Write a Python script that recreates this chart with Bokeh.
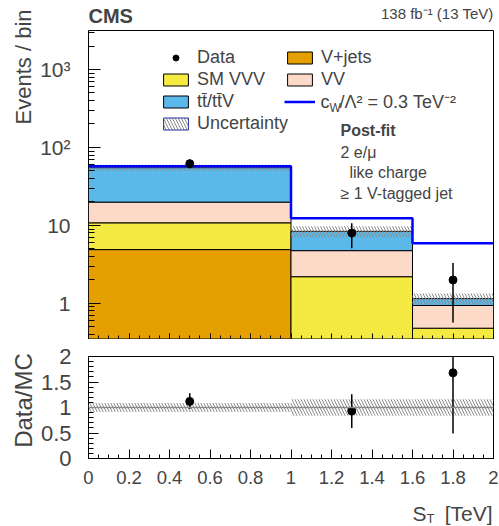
import numpy as np
from bokeh.plotting import figure
from bokeh.layouts import column, row
from bokeh.models import (Range1d, FixedTicker, Legend, LegendItem, Label, Span,
                          NumeralTickFormatter, CustomJSTickFormatter)
from bokeh.embed import file_html
from bokeh.resources import INLINE

FONT = "Liberation Sans"

# ---- data ----
bin_edges = [0.0, 1.0, 1.6, 2.0]
data_x = [0.5, 1.3, 1.8]
vjets = [4.9, 0.25, 0.1]
sm_vvv = [5.9, 1.95, 0.38]
vv = [9.1, 2.55, 0.46]
ttv = [35.1, 3.65, 0.21]
cw_signal = [57.5, 12.4, 5.93]
data_counts = [62, 8, 2]
data_lo = [54.1, 5.1, 0.57]
data_hi = [70.0, 10.7, 3.3]
unc_rel = [0.09, 0.16, 0.16]
ratio = [1.12, 0.93, 1.68]
ratio_lo = [0.97, 0.60, 0.49]
ratio_hi = [1.28, 1.26, 2.9]

proc_names = ["V+jets", "SM VVV", "VV", "tt\u0304/tt\u0304V"]
proc_colors = ["#e69f00", "#f5ea42", "#fdd9c7", "#5bb8ea"]

y_major = [1, 10, 100, 1000]
y_major_labels = {1: "1", 10: "10", 100: "10\u00b2", 1000: "10\u00b3"}
y_minor = [m * 10.0 ** e for e in range(-1, 4) for m in range(1, 10) if not (e == -1 and m < 4)]
x_major = [0, 0.2, 0.4, 0.6, 0.8, 1.0, 1.2, 1.4, 1.6, 1.8, 2.0]
x_minor = [i * 0.05 for i in range(41)]
r_major = [0, 0.5, 1, 1.5, 2]
r_minor = [i * 0.1 for i in range(21)]

left = np.array(bin_edges[:-1])
right = np.array(bin_edges[1:])
BASE = 1e-3

LEFT_W = 36
MAIN_W = 463


def lab(p, x, y, text, size, **kw):
    p.add_layout(Label(x=x, y=y, x_units="screen", y_units="screen", text=text,
                       text_font=FONT, text_font_size=size, **kw))


def text_fig(w, h):
    f = figure(width=w, height=h, x_range=Range1d(0, 1), y_range=Range1d(0, 1),
               x_axis_location=None, y_axis_location=None,
               output_backend="svg", toolbar_location=None,
               min_border_left=0, min_border_right=0, min_border_top=0, min_border_bottom=0)
    f.outline_line_color = None
    f.xgrid.visible = False
    f.ygrid.visible = False
    f.background_fill_color = "white"
    f.border_fill_color = "white"
    return f


# ---- top panel ----
p1 = figure(width=MAIN_W, height=314, y_axis_type="log",
            x_range=Range1d(0, 2), y_range=Range1d(10 ** -0.45, 10 ** 3.5),
            output_backend="svg", toolbar_location=None,
            min_border_left=52, min_border_right=6, min_border_top=2, min_border_bottom=4)

stack = [np.array(vjets), np.array(sm_vvv), np.array(vv), np.array(ttv)]
cum = np.full(3, BASE)
rends = {}
for name, vals, col in zip(proc_names, stack, proc_colors):
    top = cum + vals
    rends[name] = p1.quad(left=left, right=right, bottom=cum, top=top,
                          fill_color=col, line_color="black", line_width=1)
    cum = top
total = cum

band_kw = dict(left=left, right=right, bottom=total * (1 - np.array(unc_rel)),
               top=total * (1 + np.array(unc_rel)))
p1.quad(**band_kw, fill_alpha=0, line_color=None,
        hatch_pattern="\\", hatch_color="#8a8a8a", hatch_scale=6, hatch_weight=1)
unc_leg = p1.quad(**band_kw, fill_color="white", line_color="#2a2aa8", line_width=1,
                  hatch_pattern="\\", hatch_color="#8a8a8a", hatch_scale=6, hatch_weight=1)
unc_leg.visible = False

cw_line = p1.step(x=bin_edges, y=list(cw_signal) + [cw_signal[-1]], mode="after",
                  line_color="#0000ff", line_width=2.5)

p1.segment(x0=data_x, y0=data_lo, x1=data_x, y1=data_hi, line_color="black", line_width=1.5)
data_r = p1.scatter(data_x, data_counts, size=8, color="black")

p1.xgrid.visible = False
p1.ygrid.visible = False
p1.outline_line_color = "black"
p1.outline_line_width = 1

p1.yaxis.ticker = FixedTicker(ticks=y_major, minor_ticks=y_minor)
p1.yaxis.major_label_overrides = y_major_labels
p1.yaxis.major_label_text_font = FONT
p1.yaxis.major_label_text_font_size = "21px"
p1.yaxis.major_label_standoff = 18
p1.yaxis.major_tick_in = 12
p1.yaxis.major_tick_out = 0
p1.yaxis.minor_tick_in = 6
p1.yaxis.minor_tick_out = 0
p1.yaxis.axis_line_color = None

p1.xaxis.ticker = FixedTicker(ticks=x_major, minor_ticks=x_minor)
p1.xaxis.formatter = CustomJSTickFormatter(code="return ''")
p1.xaxis.major_label_text_font_size = "1px"
p1.xaxis.major_label_standoff = 0
p1.xaxis.major_tick_in = 5
p1.xaxis.major_tick_out = 0
p1.xaxis.minor_tick_in = 3
p1.xaxis.minor_tick_out = 0
p1.xaxis.axis_line_color = None

leg_common = dict(glyph_width=31, glyph_height=15, label_height=22, spacing=0,
                  padding=0, margin=0, border_line_color=None, background_fill_alpha=0,
                  inactive_fill_alpha=0,
                  label_text_font=FONT, label_text_font_size="18px", label_standoff=6)
leg1 = Legend(items=[LegendItem(label="Data", renderers=[data_r]),
                     LegendItem(label=proc_names[1], renderers=[rends[proc_names[1]]]),
                     LegendItem(label=proc_names[3], renderers=[rends[proc_names[3]]]),
                     LegendItem(label="Uncertainty", renderers=[unc_leg])],
              location=(72, 204), **leg_common)
leg2 = Legend(items=[LegendItem(label=proc_names[0], renderers=[rends[proc_names[0]]]),
                     LegendItem(label=proc_names[2], renderers=[rends[proc_names[2]]]),
                     LegendItem(label=" ", renderers=[cw_line])],
              location=(196, 226), **leg_common)
p1.add_layout(leg1)
p1.add_layout(leg2)

lab(p1, 232, 237, "c", "18px", text_baseline="middle")
lab(p1, 241, 231, "W", "12px", text_baseline="middle")
lab(p1, 251, 237, "/\u039b\u00b2 = 0.3 TeV\u207b\u00b2", "18px", text_baseline="middle")

lab(p1, 252, 208, "Post-fit", "16px", text_font_style="bold", text_baseline="middle")
lab(p1, 252, 186.5, "2 e/\u03bc", "16px", text_baseline="middle")
lab(p1, 261, 166.5, "like charge", "16px", text_baseline="middle")
lab(p1, 252, 145.5, "\u2265 1 V-tagged jet", "16px", text_baseline="middle")

# header / side text panels (frames are aligned with the plot frames in the column)
header = text_fig(MAIN_W, 28)
lab(header, 0, 13, "CMS", "20px", text_font_style="bold", text_baseline="alphabetic")
lab(header, 405, 15, "138 fb\u207b\u00b9 (13 TeV)", "15px", text_align="right",
    text_baseline="alphabetic")

left_top = text_fig(LEFT_W, 342)
lab(left_top, 23, 333, "Events / bin", "22px", angle=np.pi / 2, text_align="right",
    text_baseline="middle")

# ---- ratio panel ----
p2 = figure(width=MAIN_W, height=158, x_range=p1.x_range, y_range=Range1d(0, 2),
            output_backend="svg", toolbar_location=None,
            min_border_left=52, min_border_right=6, min_border_top=14, min_border_bottom=42)

p2.quad(left=left, right=right, bottom=1 - np.array(unc_rel), top=1 + np.array(unc_rel),
        fill_alpha=0, line_color=None,
        hatch_pattern="\\", hatch_color="#8a8a8a", hatch_scale=6, hatch_weight=1)
p2.add_layout(Span(location=1, dimension="width", line_color="#8a8a8a", line_width=1.5))
p2.segment(x0=data_x, y0=ratio_lo, x1=data_x, y1=ratio_hi, line_color="black", line_width=1.5)
p2.scatter(data_x, ratio, size=8, color="black")

p2.xgrid.visible = False
p2.ygrid.visible = False
p2.outline_line_color = "black"
p2.outline_line_width = 1

p2.yaxis.ticker = FixedTicker(ticks=r_major, minor_ticks=r_minor)
p2.yaxis.formatter = NumeralTickFormatter(format="0.[0]")
p2.yaxis.major_label_text_font = FONT
p2.yaxis.major_label_text_font_size = "22px"
p2.yaxis.major_label_standoff = 17
p2.yaxis.major_tick_in = 10
p2.yaxis.major_tick_out = 0
p2.yaxis.minor_tick_in = 5
p2.yaxis.minor_tick_out = 0
p2.yaxis.axis_line_color = None

p2.xaxis.ticker = FixedTicker(ticks=x_major, minor_ticks=x_minor)
p2.xaxis.formatter = NumeralTickFormatter(format="0.[0]")
p2.xaxis.major_label_text_font = FONT
p2.xaxis.major_label_text_font_size = "18.5px"
p2.xaxis.major_label_standoff = 12
p2.xaxis.major_tick_in = 9
p2.xaxis.major_tick_out = 0
p2.xaxis.minor_tick_in = 4
p2.xaxis.minor_tick_out = 0
p2.xaxis.axis_line_color = None

footer = text_fig(MAIN_W, 26)
lab(footer, 324, 13, "S", "21px", text_baseline="alphabetic")
lab(footer, 338, 8, "T", "13px", text_baseline="alphabetic")
lab(footer, 404, 13, "[TeV]", "21px", text_align="right", text_baseline="alphabetic")

left_bot = text_fig(LEFT_W, 184)
lab(left_bot, 23, 126, "Data/MC", "24px", angle=np.pi / 2, text_align="center",
    text_baseline="middle")

layout = column(
    row(left_top, column(header, p1, spacing=0), spacing=0),
    row(left_bot, column(p2, footer, spacing=0), spacing=0),
    spacing=0,
)
open("out.html", "w").write(file_html(layout, INLINE))
